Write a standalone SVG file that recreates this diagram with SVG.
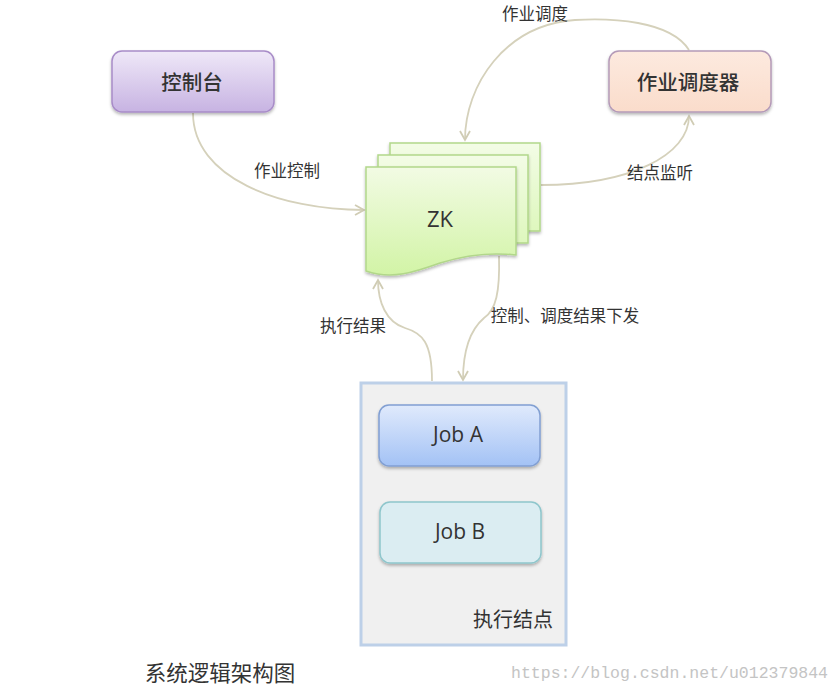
<svg xmlns="http://www.w3.org/2000/svg" width="838" height="694" viewBox="0 0 838 694">
<defs>
<style>
.lbl{font-family:"Noto Sans CJK SC","Noto Sans",sans-serif;font-size:16.5px;fill:#333;text-anchor:middle;dominant-baseline:central}
.big{font-family:"Noto Sans CJK SC","Noto Sans",sans-serif;font-size:20.5px;font-weight:500;fill:#333;text-anchor:middle;dominant-baseline:central}
.en{font-family:"Open Sans","Noto Sans",sans-serif;font-size:21px;fill:#333;text-anchor:middle;dominant-baseline:central}
.conn{fill:none;stroke:#d5d1bb;stroke-width:1.8}
</style>
<linearGradient id="gPurple" x1="0" y1="0" x2="0" y2="1"><stop offset="0" stop-color="#efe8f8"/><stop offset="1" stop-color="#c7b3e2"/></linearGradient>
<linearGradient id="gPeach" x1="0" y1="0" x2="0" y2="1"><stop offset="0" stop-color="#fdeadf"/><stop offset="1" stop-color="#fadccb"/></linearGradient>
<linearGradient id="gGreen" x1="0" y1="0" x2="0" y2="1"><stop offset="0" stop-color="#f2fbe4"/><stop offset="1" stop-color="#d2f4a6"/></linearGradient>
<linearGradient id="gGreenL" x1="0" y1="0" x2="0" y2="1"><stop offset="0" stop-color="#f3fce6"/><stop offset="1" stop-color="#def7bd"/></linearGradient>
<linearGradient id="gBlue" x1="0" y1="0" x2="0" y2="1"><stop offset="0" stop-color="#e0eafc"/><stop offset="1" stop-color="#a3c2f5"/></linearGradient>
<filter id="sh" x="-10%" y="-10%" width="120%" height="130%"><feDropShadow dx="0" dy="2" stdDeviation="1.6" flood-color="#000" flood-opacity="0.28"/></filter>
<marker id="arr" markerWidth="12" markerHeight="12" refX="10" refY="6" orient="auto" markerUnits="userSpaceOnUse"><path d="M1,1 L10,6 L1,11" fill="none" stroke="#d0ccb4" stroke-width="1.8"/></marker>
</defs>
<rect width="838" height="694" fill="#fff"/>

<g id="connectors">
<path class="conn" d="M193,113 C 193,178 280,210 364,210" marker-end="url(#arr)"/>
<path class="conn" d="M689,50 C 670,20 610,18 575,20 C 505,25 465,85 465,140" marker-end="url(#arr)"/>
<path class="conn" d="M541,185 C 630,185 689,155 689,116" marker-end="url(#arr)"/>
<path class="conn" d="M432,381 C 432,342 422,333 405,328 C 386,322 378,302 378,280" marker-end="url(#arr)"/>
<path class="conn" d="M499,256 C 500,292 496,310 484,318 C 470,330 463,350 463,380" marker-end="url(#arr)"/>
<text class="lbl" x="287" y="170">作业控制</text>
<text class="lbl" x="535" y="13">作业调度</text>
<text class="lbl" x="660" y="172">结点监听</text>
<text class="lbl" x="353" y="325">执行结果</text>
<text class="lbl" x="565" y="315">控制、调度结果下发</text>
</g>

<g id="console">
<rect x="112" y="51" width="162" height="61" rx="10" fill="url(#gPurple)" stroke="#a88cc8" stroke-width="1.5" filter="url(#sh)"/>
<text class="big" x="192" y="81">控制台</text>
</g>

<g id="scheduler">
<rect x="609" y="51" width="162" height="61" rx="10" fill="url(#gPeach)" stroke="#b49ab8" stroke-width="1.5" filter="url(#sh)"/>
<text class="big" x="688" y="81">作业调度器</text>
</g>

<g id="zk">
<rect x="390" y="143" width="150" height="88" fill="url(#gGreenL)" stroke="#b2d78a" stroke-width="1.5" filter="url(#sh)"/>
<rect x="378" y="155" width="150" height="88" fill="url(#gGreenL)" stroke="#b2d78a" stroke-width="1.5" filter="url(#sh)"/>
<path d="M366,167 L516,167 L516,255 C 490,252 465,255 440,263 C 415,272 392,280 366,271 Z" fill="url(#gGreen)" stroke="#b2d78a" stroke-width="1.5" filter="url(#sh)"/>
<text class="en" x="440" y="218" style="font-size:22px">ZK</text>
</g>

<g id="exec-node">
<rect x="361" y="383" width="205" height="262" fill="#f0f0f0" stroke="#bdd0e8" stroke-width="3"/>
<text class="lbl" x="513" y="618" style="font-size:20px">执行结点</text>
</g>

<g id="jobA">
<rect x="379" y="405" width="161" height="61" rx="10" fill="url(#gBlue)" stroke="#819fd2" stroke-width="1.5" filter="url(#sh)"/>
<text class="en" x="458" y="434">Job A</text>
</g>

<g id="jobB">
<rect x="380" y="502" width="161" height="61" rx="10" fill="#dbedf2" stroke="#8ec6cc" stroke-width="1.5" filter="url(#sh)"/>
<text class="en" x="460" y="531">Job B</text>
</g>

<text x="220" y="671" style="font-family:'Noto Sans CJK SC','Noto Sans',sans-serif;font-size:21.5px;fill:#333;text-anchor:middle;dominant-baseline:central">系统逻辑架构图</text>
<text x="511" y="678" textLength="317" lengthAdjust="spacingAndGlyphs" style="font-family:'Liberation Mono',monospace;font-size:17px;fill:#c4c4c4">https://blog.csdn.net/u012379844</text>
</svg>
